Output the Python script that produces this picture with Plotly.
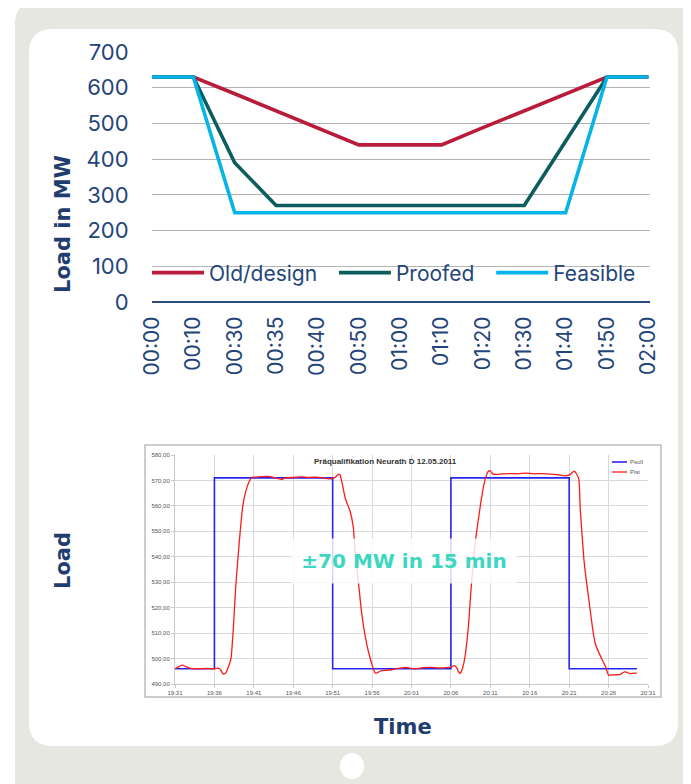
import plotly.graph_objects as go

# ---------------- data: top chart ----------------
time_labels = ["00:00", "00:10", "00:30", "00:35", "00:40", "00:50", "01:00",
               "01:10", "01:20", "01:30", "01:40", "01:50", "02:00"]
old_design = [630, 630, 583, 535, 488, 440, 440, 440, 488, 535, 583, 630, 630]
proofed = [630, 630, 390, 270, 270, 270, 270, 270, 270, 270, 450, 630, 630]
feasible = [630, 630, 250, 250, 250, 250, 250, 250, 250, 250, 250, 630, 630]
y_ticks = [0, 100, 200, 300, 400, 500, 600, 700]

# ---------------- data: bottom chart (minutes after 19:31) ----------------
bottom_tick_labels = ["19:31", "19:36", "19:41", "19:46", "19:51", "19:56", "20:01",
                      "20:06", "20:11", "20:16", "20:21", "20:26", "20:31"]
psoll_t = [0, 5, 5, 20, 20, 35, 35, 50, 50, 58.6]
psoll_v = [496, 496, 571, 571, 496, 496, 571, 571, 496, 496]
pist_t = [0.0, 0.5, 0.9, 1.4, 2.0, 3.0, 4.0, 5.0, 5.5, 5.8, 6.1, 6.4, 6.8, 7.1, 7.4,
          7.7, 8.0, 8.3, 8.6, 9.0, 9.4, 9.75, 10.3, 11.0, 11.8, 12.5, 13.0, 13.5,
          14.0, 15.0, 16.0, 17.0, 18.0, 19.0, 19.8, 20.3, 20.7, 20.9, 21.2, 21.6,
          22.2, 22.6, 22.9, 23.2, 23.6, 23.9, 24.3, 24.6, 25.0, 25.4, 25.7, 26.2,
          26.8, 27.5, 28.5, 29.3, 30.0, 30.5, 31.5, 32.5, 33.5, 34.5, 35.0, 35.4,
          35.7, 36.0, 36.2, 36.5, 36.8, 37.2, 37.6, 38.1, 38.5, 38.8, 39.1, 39.4,
          39.7, 40.0, 40.3, 40.8, 41.5, 42.5, 43.5, 44.5, 45.5, 46.5, 47.5, 48.5,
          49.5, 50.1, 50.5, 50.7, 51.2, 51.4, 51.7, 51.9, 52.5, 53.3, 54.2, 54.6,
          55.0, 55.5, 56.5, 57.0, 57.3, 57.7, 58.2, 58.6]
pist_v = [496.0, 496.8, 497.4, 496.8, 496.1, 496.0, 496.1, 496.0, 496.2, 495.5, 494.0,
          494.2, 497.0, 500.0, 512.0, 528.0, 540.0, 551.0, 560.0, 566.0, 569.5, 571.2,
          571.3, 571.5, 571.6, 571.2, 570.8, 570.4, 571.0, 571.2, 571.4, 571.2, 571.3,
          570.9, 570.6, 571.2, 572.3, 572.4, 569.0, 563.0, 558.0, 552.0, 540.0, 532.0,
          520.0, 513.0, 506.0, 502.0, 497.5, 494.3, 494.5, 495.3, 495.4, 495.6, 496.2,
          496.5, 496.1, 496.0, 496.4, 496.5, 496.3, 496.4, 496.6, 497.2, 496.5, 494.6,
          494.2, 496.5, 501.0, 512.0, 529.0, 546.0, 555.0, 561.5, 567.0, 571.0, 573.4,
          573.8, 572.6, 572.4, 572.6, 572.7, 572.6, 572.9, 572.6, 572.7, 572.5, 572.3,
          571.8, 572.3, 573.4, 573.6, 570.8, 559.0, 546.0, 538.0, 523.0, 506.0, 499.4,
          497.0, 493.5, 493.6, 493.8, 494.8, 494.6, 494.1, 494.3, 494.2]
bottom_y_ticks = [490, 500, 510, 520, 530, 540, 550, 560, 570, 580]

START_MIN = 19 * 60 + 31

# the page body has an 8px margin: the figure is drawn 8px in from the window edge
OFF = 8
W, H = 691 - OFF, 784 - OFF
NAVY = "#24457a"
TITLE_NAVY = "#1f3d6e"
PSOLL_COLOR = "#2626f2"
PIST_COLOR = "#ff1a1a"
NBSP = "\u00a0"


def px(x):
    return (x - OFF) / W


def py(y):
    return 1 - (y - OFF) / H


def rounded_rect(x0, y0, x1, y1, r):
    rx, ry = r / W, r / H
    X0, X1 = px(x0), px(x1)
    Y0, Y1 = py(y0), py(y1)  # Y0 is top (larger)
    return (f"M{X0 + rx},{Y0} L{X1 - rx},{Y0} Q{X1},{Y0} {X1},{Y0 - ry} "
            f"L{X1},{Y1 + ry} Q{X1},{Y1} {X1 - rx},{Y1} L{X0 + rx},{Y1} "
            f"Q{X0},{Y1} {X0},{Y1 + ry} L{X0},{Y0 - ry} Q{X0},{Y0} {X0 + rx},{Y0} Z")


fig = go.Figure()

# top chart traces
fig.add_trace(go.Scatter(x=time_labels, y=old_design, name="Old/design" + NBSP * 2,
                         mode="lines", line=dict(color="#b91c3b", width=3.6),
                         xaxis="x", yaxis="y"))
fig.add_trace(go.Scatter(x=time_labels, y=proofed, name="Proofed" + NBSP * 2, mode="lines",
                         line=dict(color="#0b5d5e", width=3.6), xaxis="x", yaxis="y"))
fig.add_trace(go.Scatter(x=time_labels, y=feasible, name="Feasible", mode="lines",
                         line=dict(color="#06b4e8", width=3.6), xaxis="x", yaxis="y"))

# bottom chart traces
fig.add_trace(go.Scatter(x=[START_MIN + t for t in psoll_t], y=psoll_v, name="Psoll",
                         mode="lines", line=dict(color=PSOLL_COLOR, width=1.6),
                         xaxis="x2", yaxis="y2", showlegend=False))
fig.add_trace(go.Scatter(x=[START_MIN + t for t in pist_t], y=pist_v, name="Pist",
                         mode="lines", line=dict(color=PIST_COLOR, width=1.3, shape="spline",
                                                 smoothing=0.6),
                         xaxis="x2", yaxis="y2", showlegend=False))

bottom_tick_vals = [START_MIN + 5 * i for i in range(len(bottom_tick_labels))]

shapes = [
    dict(type="path", xref="paper", yref="paper", layer="below",
         path=rounded_rect(15, 2, 690, 830, 22), fillcolor="#e7e7e2", line=dict(width=0)),
    dict(type="path", xref="paper", yref="paper", layer="below",
         path=rounded_rect(29, 29, 678, 746, 24), fillcolor="#ffffff", line=dict(width=0)),
    dict(type="circle", xref="paper", yref="paper", layer="below",
         x0=px(340), x1=px(364), y0=py(779), y1=py(753), fillcolor="#ffffff",
         line=dict(width=0)),
    dict(type="rect", xref="paper", yref="paper", layer="below",
         x0=px(145), x1=px(661), y0=py(697), y1=py(445), fillcolor="#ffffff",
         line=dict(color="#bdbdbd", width=1.5)),
    # small legend keys of the bottom (Excel-style) chart
    dict(type="line", xref="paper", yref="paper", x0=px(612), x1=px(627),
         y0=py(462), y1=py(462), line=dict(color=PSOLL_COLOR, width=1.6)),
    dict(type="line", xref="paper", yref="paper", x0=px(612), x1=px(627),
         y0=py(472), y1=py(472), line=dict(color=PIST_COLOR, width=1.3)),
]

small_font = dict(family="Liberation Sans, Arial", size=6, color="#555555")
bold_font = dict(family="DejaVu Sans", size=21, color=TITLE_NAVY)

annotations = [
    dict(text="<b>Load in MW</b>", xref="paper", yref="paper", x=px(63), y=py(224),
         textangle=-90, showarrow=False, font=bold_font,
         xanchor="center", yanchor="middle"),
    dict(text="<b>Load</b>", xref="paper", yref="paper", x=px(63), y=py(561),
         textangle=-90, showarrow=False, font=bold_font,
         xanchor="center", yanchor="middle"),
    dict(text="<b>Time</b>", xref="paper", yref="paper", x=px(403), y=py(727),
         showarrow=False, font=bold_font, xanchor="center", yanchor="middle"),
    dict(text="<b>Präqualifikation Neurath D 12.05.2011</b>", xref="paper", yref="paper",
         x=px(385), y=py(461), showarrow=False,
         font=dict(family="Liberation Sans, Arial", size=8, color="#333333"),
         xanchor="center", yanchor="middle"),
    dict(text="Psoll", xref="paper", yref="paper", x=px(628), y=py(462), showarrow=False,
         font=small_font, xanchor="left", yanchor="middle"),
    dict(text="Pist", xref="paper", yref="paper", x=px(628), y=py(472), showarrow=False,
         font=small_font, xanchor="left", yanchor="middle"),
    dict(text="<b>±70 MW in 15 min</b>", xref="paper", yref="paper", x=px(404), y=py(561),
         showarrow=False, font=dict(family="DejaVu Sans", size=20, color="#3dd6bf"),
         bgcolor="rgba(255,255,255,0.82)", width=222, height=42,
         xanchor="center", yanchor="middle"),
]

fig.update_layout(
    width=W, height=H,
    margin=dict(l=0, r=0, t=0, b=0, autoexpand=False),
    paper_bgcolor="#ffffff",
    plot_bgcolor="rgba(0,0,0,0)",
    separators=",.",
    shapes=shapes,
    annotations=annotations,
    showlegend=True,
    legend=dict(orientation="h", x=px(147), y=py(273), xanchor="left", yanchor="middle",
                bgcolor="rgba(0,0,0,0)", font=dict(family="Inter, Lato", size=21, color=NAVY),
                itemwidth=52, traceorder="normal"),
    xaxis=dict(domain=[px(152), px(650)], type="category", range=[0, 12.04],
               showgrid=False, zeroline=False, showline=False,
               tickangle=-90, tickfont=dict(family="Inter, Lato", size=21, color=NAVY),
               ticks="outside", ticklen=5, tickcolor="rgba(0,0,0,0)",
               categoryorder="array", categoryarray=time_labels, fixedrange=True),
    yaxis=dict(domain=[py(302), py(52)], range=[0, 700], tickvals=y_ticks,
               showgrid=True, gridcolor="#b3b3b3", gridwidth=1.3,
               zeroline=True, zerolinecolor="#2a4a80", zerolinewidth=2,
               showline=False, tickfont=dict(family="Inter, Lato", size=22, color=NAVY),
               ticks="outside", ticklen=18, tickcolor="rgba(0,0,0,0)", fixedrange=True),
    xaxis2=dict(domain=[px(175), px(648)], range=[START_MIN, START_MIN + 60],
                tickvals=bottom_tick_vals, ticktext=bottom_tick_labels,
                showgrid=True, gridcolor="#d9d9d9", gridwidth=1, zeroline=False,
                showline=True, linecolor="#c8c8c8", linewidth=1, mirror=False,
                ticks="outside", ticklen=3, tickcolor="#c8c8c8",
                tickfont=small_font, anchor="y2", fixedrange=True),
    yaxis2=dict(domain=[py(684), py(455)], range=[490, 580], tickvals=bottom_y_ticks,
                tickformat=".2f", showgrid=True, gridcolor="#d9d9d9", gridwidth=1,
                zeroline=False, showline=True, linecolor="#c8c8c8", linewidth=1,
                ticks="outside", ticklen=3, tickcolor="#c8c8c8",
                tickfont=small_font, anchor="x2", fixedrange=True),
)

fig.write_html("out.html")
